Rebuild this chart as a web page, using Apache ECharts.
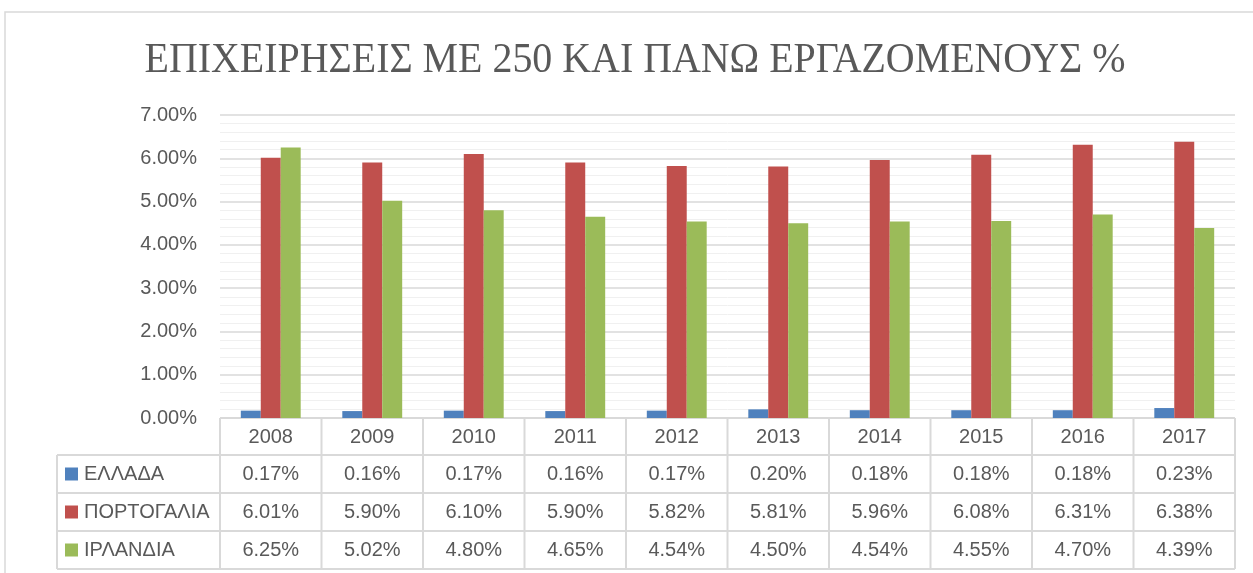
<!DOCTYPE html>
<html><head><meta charset="utf-8">
<script src="https://cdn.jsdelivr.net/npm/echarts@6/dist/echarts.min.js"></script>
<style>html,body{margin:0;padding:0;background:#fff}#c{width:1253px;height:573px}</style>
</head><body><div id="c"></div>
<script>
const titleText = 'ΕΠΙΧΕΙΡΗΣΕΙΣ ΜΕ 250 ΚΑΙ ΠΑΝΩ ΕΡΓΑΖΟΜΕΝΟΥΣ %';
const years = ['2008','2009','2010','2011','2012','2013','2014','2015','2016','2017'];
const seriesNames = ['ΕΛΛΑΔΑ','ΠΟΡΤΟΓΑΛΙΑ','ΙΡΛΑΝΔΙΑ'];
const greece   = [0.17,0.16,0.17,0.16,0.17,0.20,0.18,0.18,0.18,0.23];
const portugal = [6.01,5.90,6.10,5.90,5.82,5.81,5.96,6.08,6.31,6.38];
const ireland  = [6.25,5.02,4.80,4.65,4.54,4.50,4.54,4.55,4.70,4.39];
const colors = ['#4F81BD','#C0504D','#9BBB59'];
const allData = [greece, portugal, ireland];

const chart = echarts.init(document.getElementById('c'));
const FONT = 'Liberation Sans';
const TXT = '#595959';
const LINE = '#d9d9d9';

chart.setOption({
  animation:false,
  grid:{left:220,right:18,top:115,bottom:155},
  xAxis:{type:'category',data:years,axisLine:{show:false},axisTick:{show:false},
    axisLabel:{show:false}},
  yAxis:{type:'value',min:0,max:7,interval:1,
    axisLabel:{formatter:v=>v.toFixed(2)+'%',fontFamily:FONT,fontSize:20,color:TXT,margin:23},
    axisLine:{show:false},axisTick:{show:false},
    splitLine:{lineStyle:{color:LINE,width:1.5}},
    minorTick:{show:false,splitNumber:5},
    minorSplitLine:{show:true,lineStyle:{color:'#f0f0f0',width:1}}},
  series: seriesNames.map((n,i)=>({name:n,type:'bar',data:allData[i],barGap:'0%',barCategoryGap:'41%',
    itemStyle:{color:colors[i]}}))
});

function buildTable(){
  const xs = years.map((y,i)=>chart.convertToPixel({xAxisIndex:0},i));
  const band = xs.length>1 ? xs[1]-xs[0] : 100;
  const left = xs[0]-band/2, right = xs[xs.length-1]+band/2;
  const y0 = chart.convertToPixel({yAxisIndex:0},0);
  const rowH = 38;
  const tblLeft = 57;
  const rowsTop = y0+37;
  const g = [];
  g.push({type:'rect',shape:{x:5,y:12,width:1300,height:700},style:{fill:'none',stroke:LINE,lineWidth:1.5},silent:true,z:-10});
  g.push({type:'text',x:635,y:40,scaleX:0.95,style:{text:titleText,fill:TXT,font:'42px "Liberation Serif"',align:'center',verticalAlign:'top'}});
  // horizontal lines
  g.push({type:'line',shape:{x1:left,y1:y0,x2:right,y2:y0},style:{stroke:LINE,lineWidth:2}});
  for(let r=0;r<=3;r++){
    const y = rowsTop + r*rowH;
    g.push({type:'line',shape:{x1:tblLeft,y1:y,x2:right,y2:y},style:{stroke:LINE,lineWidth:2}});
  }
  // vertical lines
  for(let c=0;c<=years.length;c++){
    const x = left + c*band;
    g.push({type:'line',shape:{x1:x,y1:y0,x2:x,y2:rowsTop+3*rowH},style:{stroke:LINE,lineWidth:2}});
  }
  g.push({type:'line',shape:{x1:tblLeft,y1:rowsTop,x2:tblLeft,y2:rowsTop+3*rowH},style:{stroke:LINE,lineWidth:2}});
  // header
  years.forEach((y,i)=>{
    g.push({type:'text',x:xs[i],y:y0+19,style:{text:y,fill:TXT,font:'20px "'+FONT+'"',align:'center',verticalAlign:'middle'}});
  });
  seriesNames.forEach((n,r)=>{
    const cy = rowsTop + r*rowH + rowH/2;
    g.push({type:'rect',shape:{x:65,y:cy-6.5,width:13,height:13},style:{fill:colors[r]}});
    g.push({type:'text',x:84,y:cy,style:{text:n,fill:TXT,font:'20px "'+FONT+'"',align:'left',verticalAlign:'middle'}});
    allData[r].forEach((v,i)=>{
      g.push({type:'text',x:xs[i],y:cy,style:{text:v.toFixed(2)+'%',fill:TXT,font:'20px "'+FONT+'"',align:'center',verticalAlign:'middle'}});
    });
  });
  chart.setOption({graphic:g});
}
buildTable();
</script></body></html>
